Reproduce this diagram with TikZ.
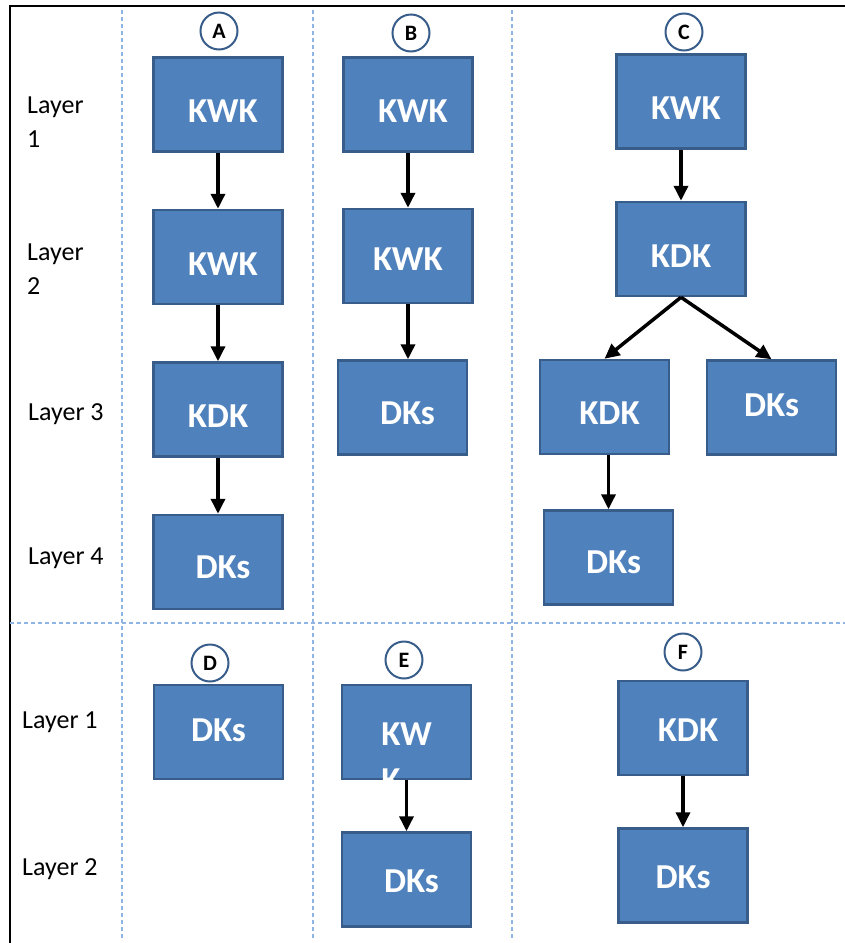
\documentclass[tikz,border=0pt]{standalone}
\usepackage{fontspec}
\setmainfont{Carlito}
\usetikzlibrary{arrows.meta}
\usetikzlibrary{positioning}
\definecolor{box_fill}{RGB}{79,129,189}
\definecolor{box_edge}{RGB}{56,93,138}
\definecolor{grid_blue}{RGB}{141,180,226}
\tikzstyle{key_box} = [
    rectangle,
    white,
    font=\bfseries\fontsize{35}{46}\selectfont,
    draw=box_edge,
    fill=box_fill,
    align=center,
    line width=2.5pt,
    minimum width=129pt,
    minimum height=94pt,
    text height=36pt, % word sits a bit below the middle
    text depth=0pt
]
\tikzstyle{nudged} = [
    execute at begin node={\hspace*{10pt}} % word a bit to the right
]
\tikzstyle{tag} = [
    circle,
    draw=box_edge,
    fill=white,
    line width=2pt,
    font=\bfseries\fontsize{22}{24}\selectfont,
    inner sep=0pt,
    minimum size=37pt
]
\tikzstyle{layer_text} = [
    anchor=west,
    align=left,
    inner sep=0pt,
    font=\fontsize{26}{34}\selectfont
]
\tikzstyle{grid_line} = [
    grid_blue,
    line width=1.2pt,
    dash pattern=on 4pt off 3pt
]
\tikzstyle{link} = [
    -{Triangle[length=15pt,width=14pt]},
    line width=3.5pt
]

\begin{document}
\begin{tikzpicture}[x=1pt, y=-1pt]
\useasboundingbox (0,0) rectangle (845,943);

% frame and dashed grid
\draw [line width=2pt] (845,6) -- (10,6) -- (10,943);
\draw [grid_line] (122,10) -- (122,940);
\draw [grid_line] (313,10) -- (313,940);
\draw [grid_line] (512,10) -- (512,940);
\draw [grid_line] (10,623) -- (845,623);

% layer names
\node (l1) [layer_text] at (27,122) {Layer\\1};
\node (l2) [layer_text] at (27,269) {Layer\\2};
\node (l3) [layer_text] at (28,414) {Layer 3};
\node (l4) [layer_text] at (28,558) {Layer 4};
\node (m1) [layer_text] at (22,722) {Layer 1};
\node (m2) [layer_text] at (22,869) {Layer 2};

% A
\node (a1) [key_box, nudged] at (218,104.5) {KWK};
\node (a2) [key_box, nudged, below=56pt of a1] {KWK};
\node (a3) [key_box, below=56pt of a2] {KDK};
\node (a4) [key_box, nudged, below=56pt of a3, text height=33pt] {DKs};
\node (tag_a) [tag] at (219,31) {A};
\draw [link] (a1) -- (a2);
\draw [link] (a2) -- (a3);
\draw [link] (a3) -- (a4);

% B
\node (b1) [key_box, nudged] at (408,104.5) {KWK};
\node (b2) [key_box, below=55pt of b1, text height=29pt] {KWK};
\node (b3) [key_box, nudged, below=55pt of b2, xshift=-5.5pt, text height=33pt] {DKs};
\node (tag_b) [tag] at (411,33) {B};
\draw [link] (b1) -- (b2);
\draw [link] (b2.south) -- (b2.south |- b3.north);

% C
\node (c1) [key_box, nudged] at (681,101.5) {KWK};
\node (c2) [key_box, below=51pt of c1] {KDK};
\node (c3) [key_box, nudged, text height=35pt] at (604.5,407) {KDK};
\node (c4) [key_box, text height=18pt] at (771.5,407.5) {DKs};
\node (c5) [key_box, nudged, below=54pt of c3, xshift=4pt, text height=31pt] {DKs};
\node (tag_c) [tag] at (684,32) {C};
\draw [link] (c1) -- (c2);
\draw [link] (c2.south) -- (c3.north);
\draw [link] (c2.south) -- (c4.north);
\draw [link] (c5.north |- c3.south) -- (c5.north);

% D
\node (d1) [key_box, text height=18pt] at (218.5,732) {DKs};
\node (tag_d) [tag] at (210,663) {D};

% E (second line of the word runs out of the box)
\node (e1) [key_box, text height=0pt] at (406.5,732)
    {\raisebox{-13pt}[0pt][0pt]{\begin{tabular}[t]{@{}l@{}}KW\\K\end{tabular}}};
\node (e2) [key_box, nudged, below=51pt of e1, text height=25pt] {DKs};
\node (tag_e) [tag] at (404,660) {E};
\draw [link] (e1) -- (e2);

% F
\node (f1) [key_box, nudged, text height=26pt] at (683,728) {KDK};
\node (f2) [key_box, below=51pt of f1, text height=25pt] {DKs};
\node (tag_f) [tag] at (683,652) {F};
\draw [link] (f1) -- (f2);
\end{tikzpicture}
\end{document}
